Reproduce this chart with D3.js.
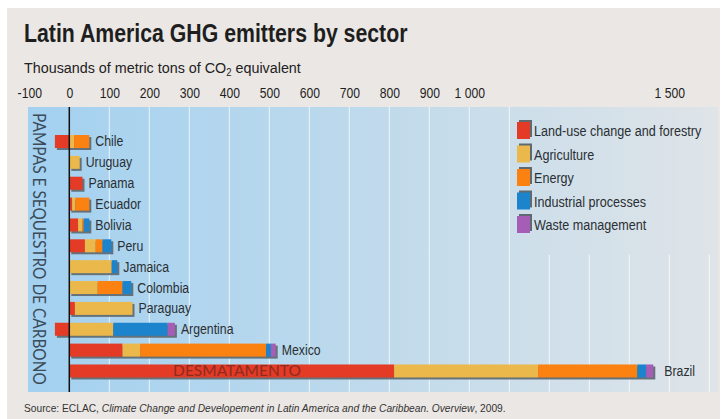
<!DOCTYPE html>
<html><head><meta charset="utf-8">
<script src="https://cdn.jsdelivr.net/npm/d3@7"></script>
<style>html,body{margin:0;padding:0;background:#fff;}svg{display:block;}</style>
</head><body>
<svg id="chart" width="725" height="419"></svg>
<script>
const countries = ["Chile","Uruguay","Panama","Ecuador","Bolivia","Peru","Jamaica","Colombia","Paraguay","Argentina","Mexico","Brazil"];
const landUse     = [-36, 0, 33, 7, 22, 39, 0, 0, 14, -36, 133, 812];
const agriculture = [12, 26, 0, 8, 10, 27, 106, 71, 144, 110, 44, 360];
const energy      = [38, 0, 0, 35, 4, 17, 0, 62, 0, 0, 315, 248];
const industrial  = [0, 0, 0, 0, 14, 22, 14, 22, 0, 136, 12, 22];
const waste       = [0, 0, 0, 0, 0, 0, 0, 0, 0, 18, 12, 18];
const sectors = ["Land-use change and forestry","Agriculture","Energy","Industrial processes","Waste management"];
const sectorColors = ["#e33b26","#ebb84b","#fb8110","#1c84cc","#a65db5"];
const tickValues = [-100,0,100,200,300,400,500,600,700,800,900,1000,1500];
const tickLabels = ["-100","0","100","200","300","400","500","600","700","800","900","1 000","1 500"];
const gridValues = [100,200,300,400,500,600,700,800,900,1000,1100,1200,1300,1400,1500,1600];

const svg = d3.select("#chart");
const FONT = "'Liberation Sans', Arial, Helvetica, sans-serif";
function condense(sel, k){
  sel.each(function(){
    const X = +this.getAttribute("x") || 0;
    this.setAttribute("transform", `translate(${X},0) scale(${k},1) translate(${-X},0)`);
  });
}
function fitWidth(sel, target){
  sel.each(function(){
    const w = this.getBBox().width;
    const X = +this.getAttribute("x") || 0;
    const k = target / w;
    this.setAttribute("transform", `translate(${X},0) scale(${k},1) translate(${-X},0)`);
  });
}

// panel
svg.append("rect").attr("x",7).attr("y",8).attr("width",713).attr("height",411).attr("fill","#ebe7e4");

// title
const title = svg.append("text").attr("x",24).attr("y",42).attr("font-family",FONT).attr("font-weight","bold")
  .attr("font-size",25).attr("fill","#1e1e1e").text("Latin America GHG emitters by sector");
fitWidth(title, 384);
const sub = svg.append("text").attr("x",24).attr("y",73).attr("font-family",FONT)
  .attr("font-size",15).attr("fill","#222");
sub.append("tspan").text("Thousands of metric tons of CO");
sub.append("tspan").attr("font-size",10).attr("dy",3).text("2");
sub.append("tspan").attr("dy",-3).text(" equivalent");
fitWidth(sub, 278);

// scales
const x = d3.scaleLinear().domain([-100, 1620]).range([29.3, 717.3]);
const y = d3.scaleBand().domain(countries).range([131.07, 381.4]).paddingInner(0.377).paddingOuter(0.1885);

const plotTop = 107, plotBottom = 392, plotLeft = 28, plotRight = 718;

// gradient
const defs = svg.append("defs");
const grad = defs.append("linearGradient").attr("id","bg").attr("gradientUnits","userSpaceOnUse")
  .attr("x1",plotLeft).attr("x2",plotRight).attr("y1",0).attr("y2",0);
grad.append("stop").attr("offset","0").attr("stop-color","#a3d1f0");
grad.append("stop").attr("offset","0.45").attr("stop-color","#bcd9ec");
grad.append("stop").attr("offset","1").attr("stop-color","#dfe4e8");

svg.append("rect").attr("x",plotLeft).attr("y",plotTop).attr("width",plotRight-plotLeft)
  .attr("height",plotBottom-plotTop).attr("fill","url(#bg)");

// gridlines
svg.append("g").selectAll("line").data(gridValues).join("line")
  .attr("x1",d=>x(d)).attr("x2",d=>x(d)).attr("y1",plotTop).attr("y2",plotBottom)
  .attr("stroke","#ffffff").attr("stroke-opacity",0.75).attr("stroke-width",1);

// legend background (hides gridlines)
svg.append("rect").attr("x",511).attr("y",plotTop).attr("width",plotRight-511).attr("height",148)
  .attr("fill","url(#bg)");

// axis labels (top)
const axis = d3.axisTop(x).tickValues(tickValues).tickFormat((d,i)=>tickLabels[i]).tickSize(0).tickPadding(0);
const gAxis = svg.append("g").attr("transform","translate(0,98)").call(axis);
gAxis.select(".domain").remove();
gAxis.selectAll("text").attr("font-family",FONT).attr("font-size",14.5).attr("fill","#1e1e1e").attr("dy",0);
condense(gAxis.selectAll("text"), 0.84);

// vertical text
const vt = svg.append("text").attr("x",0).attr("y",0)
  .attr("font-family","Lato, 'Open Sans', sans-serif").attr("font-size",16.5).attr("fill","#3b4b5a")
  .text("PAMPAS E SEQUESTRO DE CARBONO");
{
  const w = vt.node().getBBox().width;
  vt.attr("transform", `translate(33,113) rotate(90) scale(${272/w},1)`);
}

// stacked data
const rows = countries.map((c,i)=>{
  const vals = [landUse[i], agriculture[i], energy[i], industrial[i], waste[i]];
  const segs = [];
  let pos = 0;
  vals.forEach((v,k)=>{
    if (v < 0) segs.push({k, x0:v, x1:0});
    else if (v > 0) { segs.push({k, x0:pos, x1:pos+v}); pos += v; }
  });
  const minV = Math.min(0, ...segs.map(s=>s.x0));
  return {country:c, segs, min:minV, max:pos};
});

const gBars = svg.append("g");
const rowG = gBars.selectAll("g").data(rows).join("g");
rowG.append("rect")
  .attr("x",d=>x(d.min)+2).attr("y",d=>y(d.country)+2)
  .attr("width",d=>x(d.max)-x(d.min)).attr("height",y.bandwidth())
  .attr("fill","#65727a");
rowG.selectAll("rect.seg").data(d=>d.segs.map(s=>({...s,country:d.country}))).join("rect")
  .attr("class","seg")
  .attr("x",s=>x(s.x0)).attr("y",s=>y(s.country))
  .attr("width",s=>x(s.x1)-x(s.x0)).attr("height",y.bandwidth())
  .attr("fill",s=>sectorColors[s.k]);

// zero line
svg.append("line").attr("x1",x(0)).attr("x2",x(0)).attr("y1",plotTop).attr("y2",plotBottom)
  .attr("stroke","#111").attr("stroke-width",1.5);

// country labels
const lbl = svg.append("g").selectAll("text").data(rows).join("text")
  .attr("x",d=>x(d.max)+ (d.country==="Brazil"?11:6)).attr("y",d=>y(d.country)+y.bandwidth()/2+5)
  .attr("font-family",FONT).attr("font-size",15).attr("fill","#2a2f33")
  .text(d=>d.country);
condense(lbl, 0.82);

// DESMATAMENTO
const dz = svg.append("text").attr("x",237).attr("y",y("Brazil")+y.bandwidth()/2+5.5).attr("text-anchor","middle")
  .attr("font-family","Lato, 'Open Sans', sans-serif").attr("font-size",16).attr("fill","#8f2a1e")
  .text("DESMATAMENTO");
fitWidth(dz, 128);

// legend
const lg = svg.append("g").selectAll("g").data(sectors).join("g")
  .attr("transform",(d,i)=>`translate(517,${122 + i*23.5})`);
lg.append("rect").attr("x",2).attr("y",-2).attr("width",13).attr("height",17).attr("fill","#5f6a70");
lg.append("rect").attr("x",0).attr("y",0).attr("width",13).attr("height",17).attr("fill",(d,i)=>sectorColors[i]);
const lt = lg.append("text").attr("x",17).attr("y",14).attr("font-family",FONT).attr("font-size",15)
  .attr("fill","#2a2f33").text(d=>d);
condense(lt, 0.84);

// source
const src = svg.append("text").attr("x",24).attr("y",412).attr("font-family",FONT).attr("font-size",11).attr("fill","#333");
src.append("tspan").text("Source: ECLAC, ");
src.append("tspan").attr("font-style","italic").text("Climate Change and Developement in Latin America and the Caribbean. Overview");
src.append("tspan").text(", 2009.");
fitWidth(src, 482);
</script>
</body></html>
